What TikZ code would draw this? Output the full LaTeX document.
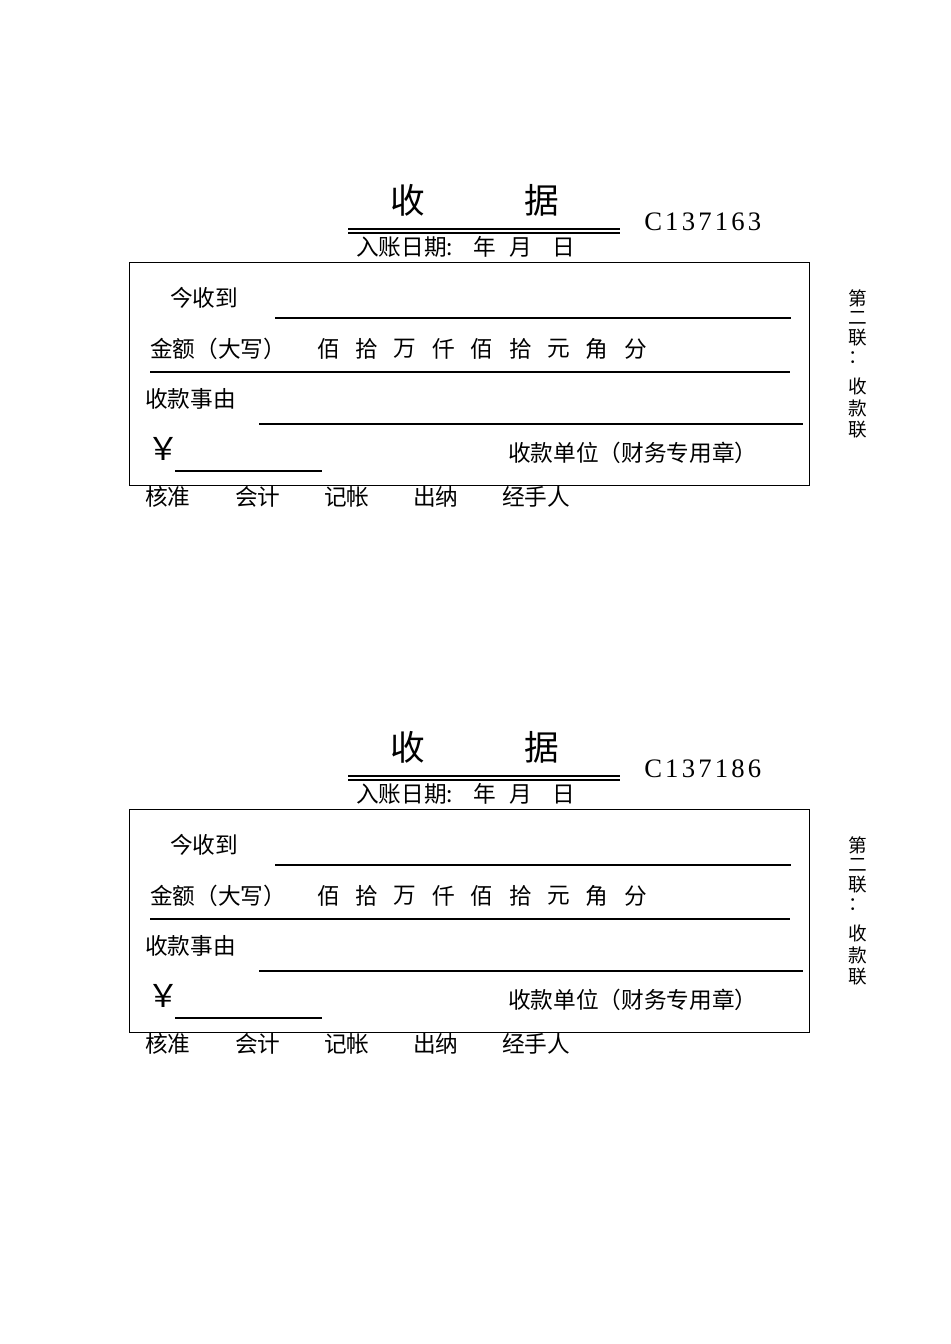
\documentclass[tikz,border=0pt]{standalone}
\usepackage{fontspec}
\setmainfont{Liberation Serif}
\newfontfamily\cjk{Noto Sans CJK SC}
\begin{document}
\begin{tikzpicture}[x=0.75pt,y=-0.75pt,
  txt/.style={inner sep=0pt,font=\cjk\fontsize{17}{17}\selectfont},
  ttl/.style={inner sep=0pt,font=\cjk\fontsize{26}{26}\selectfont},
  side/.style={inner sep=0pt,font=\cjk\fontsize{14}{14}\selectfont},
  fline/.style={line width=0.8pt},
  frame/.style={draw,line width=0.8pt}]
\useasboundingbox[fill=white] (0,0) rectangle (950,1344);
\foreach \i/\dy/\code in {a/0/C137163,b/547/C137186}{
\begin{scope}[shift={(0,\dy)}]
\node[ttl] (t1\i) at (408,200) {收};
\node[ttl] (t2\i) at (542,200) {据};
\coordinate (dl\i) at (348,229); \coordinate (dr\i) at (620,229);
\draw[fline] (dl\i) -- (dr\i);
\draw[fline] ([yshift=-3pt]dl\i) -- ([yshift=-3pt]dr\i);
\node[txt,anchor=west] (date\i) at (356,247) {入账日期:\hspace{0.9em}年\hspace{0.6em}月\hspace{0.9em}日};
\node[inner sep=0pt,anchor=west,font=\fontsize{20}{20}\selectfont\addfontfeature{LetterSpace=12}] (code\i) at (644,222) {\code};
\node[frame,minimum width=680*0.75pt,minimum height=223*0.75pt,anchor=north west] (box\i) at (129,262) {};
\node[txt,anchor=west] (jin\i) at (170,298) {今收到};
\coordinate (l1a\i) at (275,318); \coordinate (l1b\i) at (791,318);
\draw[fline] (l1a\i) -- (l1b\i);
\node[txt,anchor=west] (amt\i) at (150,349) {金额（大写）};
\foreach \c [count=\k] in {佰,拾,万,仟,佰,拾,元,角,分}{
  \node[txt] (u\k\i) at ({290+38.4*\k},349) {\c};
}
\coordinate (l2a\i) at (150,372); \coordinate (l2b\i) at (790,372);
\draw[fline] (l2a\i) -- (l2b\i);
\node[txt,anchor=west] (why\i) at (145,399) {收款事由};
\coordinate (l3a\i) at (259,424); \coordinate (l3b\i) at (803,424);
\draw[fline] (l3a\i) -- (l3b\i);
\node[inner sep=0pt,font=\cjk\fontsize{24}{24}\selectfont] (yen\i) at (163,449) {￥};
\coordinate (l4a\i) at (175,471); \coordinate (l4b\i) at (322,471);
\draw[fline] (l4a\i) -- (l4b\i);
\node[txt,anchor=west] (unit\i) at (508,453) {收款单位（财务专用章）};
\node[txt,anchor=west] (s1\i) at (145,497) {核准};
\node[txt,anchor=west] (s2\i) at (235,497) {会计};
\node[txt,anchor=west] (s3\i) at (324,497) {记帐};
\node[txt,anchor=west] (s4\i) at (413,497) {出纳};
\node[txt,anchor=west] (s5\i) at (502,497) {经手人};
\foreach \c/\yy [count=\k] in {第/298,二/318,联/338,：/358,收/386,款/408,联/430}{
  \node[side] (v\k\i) at (858,\yy) {\c};
}
\end{scope}}
\end{tikzpicture}
\end{document}
